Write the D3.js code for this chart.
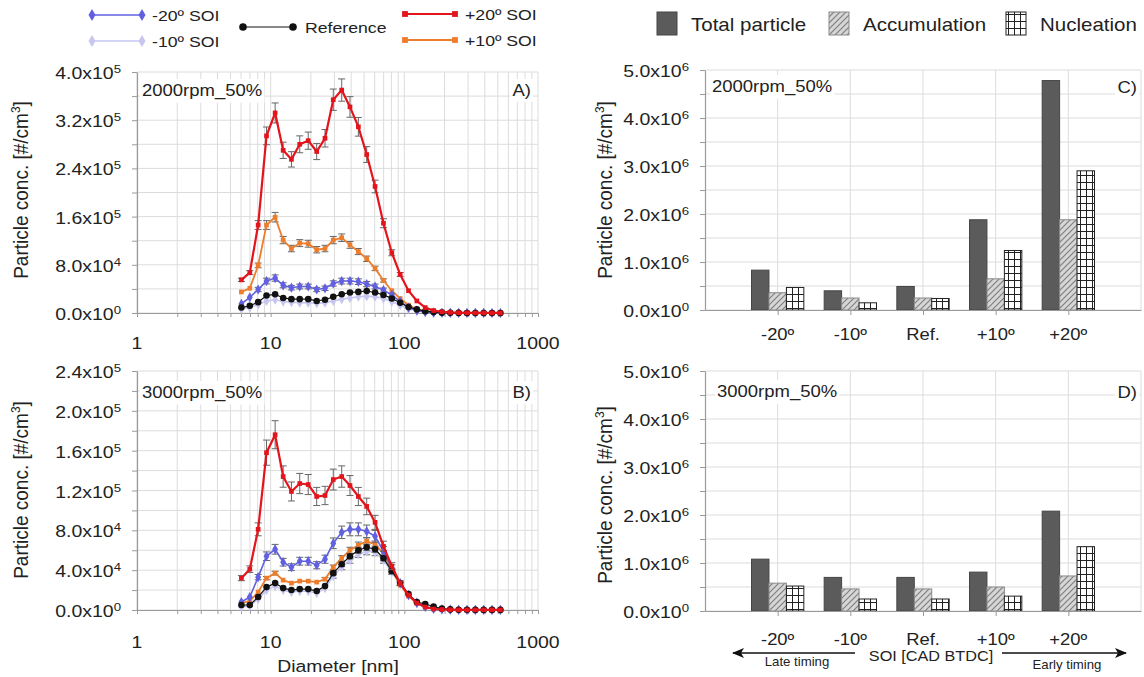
<!DOCTYPE html>
<html><head><meta charset="utf-8">
<script src="https://cdn.jsdelivr.net/npm/d3@7"></script>
<style>body{margin:0;background:#fff;} text{font-family:"Liberation Sans",Arial,sans-serif;fill:#222;}</style>
</head><body><svg id="c" width="1144" height="677"></svg>
<script>
// ---------- DATA ----------
const diameters = [6.04, 6.98, 8.06, 9.31, 10.8, 12.4, 14.3, 16.5, 19.1, 22.1, 25.5, 29.4, 34.0, 39.2, 45.3, 52.3, 60.4, 69.8, 80.6, 93.1, 107.5, 124.1, 143.3, 165.5, 191.1, 220.7, 254.8, 294.3, 339.8, 392.4, 453.2, 523.3];

// Panel A: 2000rpm_50%
const A_m20 = [15000, 26000, 39000, 53000, 58000, 46000, 42000, 44000, 44000, 39000, 41000, 49000, 53000, 53000, 52000, 48000, 44000, 38000, 30000, 19000, 9000, 4000, 1500, 600, 300, 150, 100, 80, 60, 50, 40, 30];
const A_m10 = [7000, 9000, 14000, 20000, 22000, 19000, 18000, 17000, 17000, 16000, 17000, 20000, 23000, 25000, 27000, 28000, 27000, 24000, 19000, 13000, 7000, 4000, 2000, 1000, 400, 200, 100, 80, 60, 50, 40, 30];
const A_ref = [9000, 12000, 18000, 29000, 31000, 25000, 23000, 23000, 23000, 20000, 22000, 27000, 31000, 34000, 35000, 36500, 34000, 30000, 24000, 17000, 10000, 6000, 3000, 1500, 600, 300, 150, 100, 80, 60, 50, 40];
const A_p10 = [35000, 41000, 79000, 146000, 159000, 121000, 107000, 116000, 115000, 105000, 107000, 121000, 125000, 113000, 102000, 90000, 74000, 54000, 37000, 24000, 13000, 6000, 3000, 1500, 700, 300, 200, 100, 100, 100, 100, 100];
const A_p20 = [55000, 67000, 146000, 294000, 332000, 270000, 255000, 280000, 286000, 268000, 290000, 354000, 370000, 342000, 309000, 263000, 210000, 149000, 100000, 64000, 37000, 20000, 9000, 4000, 2000, 1000, 500, 300, 200, 100, 100, 100];

// Panel B: 3000rpm_50%
const B_m20 = [8000, 13000, 33000, 54000, 61000, 48000, 43000, 49000, 49000, 45000, 51000, 67000, 78000, 81000, 81000, 79000, 74000, 59000, 42000, 27000, 15000, 7000, 3000, 1000, 500, 300, 200, 100, 100, 100, 100, 100];
const B_m10 = [3000, 4000, 11000, 20000, 24000, 20000, 18000, 19000, 19000, 17000, 22000, 34000, 43000, 50000, 56000, 59000, 58000, 50000, 38000, 26000, 15000, 8000, 4000, 2000, 800, 300, 200, 100, 100, 100, 100, 100];
const B_ref = [5000, 5000, 13000, 23000, 27000, 22000, 20000, 21000, 21000, 19000, 24000, 37000, 46000, 54000, 60000, 63000, 61000, 52000, 39000, 27000, 16000, 8000, 6000, 3500, 1500, 600, 300, 200, 100, 100, 100, 100];
const B_p10 = [7000, 9000, 18000, 32000, 37000, 30000, 27000, 29000, 29000, 28000, 31000, 43000, 52000, 60000, 65000, 69000, 66000, 57000, 40000, 25000, 14000, 7000, 3000, 1500, 600, 300, 200, 100, 100, 100, 100, 100];
const B_p20 = [32000, 41000, 81000, 158000, 176000, 134000, 119000, 127000, 126000, 114000, 115000, 131000, 134000, 125000, 114000, 104000, 88000, 64000, 44000, 27000, 15000, 7000, 3000, 1000, 500, 300, 200, 100, 100, 100, 100, 100];

// relative error bar size per series (A, B)
const errA = {"-10º SOI": 0.06, "+10º SOI": 0.05, "-20º SOI": 0.09, "Reference": 0.04, "+20º SOI": 0.05};
const errB = {"-10º SOI": 0.06, "+10º SOI": 0.05, "-20º SOI": 0.08, "Reference": 0.05, "+20º SOI": 0.08};

// Bar panels
const categories = ["-20º", "-10º", "Ref.", "+10º", "+20º"];
const C_total = [830000, 400000, 490000, 1880000, 4780000];
const C_accum = [360000, 250000, 250000, 650000, 1880000];
const C_nucl  = [470000, 150000, 240000, 1240000, 2900000];
const D_total = [1080000, 700000, 700000, 810000, 2080000];
const D_accum = [580000, 460000, 460000, 500000, 730000];
const D_nucl  = [520000, 250000, 250000, 310000, 1340000];

const xTickLabels = [1, 10, 100, 1000];

// ---------- STYLE ----------
const SX = 1.18; // horizontal stretch of the original figure's text
const seriesStyle = [
  {name: "-10º SOI", color: "#c6c6f0", sym: d3.symbolDiamond, size: 30, w: 1.6},
  {name: "+10º SOI", color: "#ee7d2b", sym: d3.symbolSquare, size: 22, w: 1.8},
  {name: "-20º SOI", color: "#6060e0", sym: d3.symbolDiamond, size: 30, w: 1.6},
  {name: "Reference", color: "#111111", sym: d3.symbolCircle, size: 34, w: 1.2},
  {name: "+20º SOI", color: "#e3141c", sym: d3.symbolSquare, size: 22, w: 2.2}
];
const dataA = {"-10º SOI": A_m10, "+10º SOI": A_p10, "-20º SOI": A_m20, "Reference": A_ref, "+20º SOI": A_p20};
const dataB = {"-10º SOI": B_m10, "+10º SOI": B_p10, "-20º SOI": B_m20, "Reference": B_ref, "+20º SOI": B_p20};

const svg = d3.select("#c");
const defs = svg.append("defs");
const hatch = defs.append("pattern").attr("id", "hatch").attr("patternUnits", "userSpaceOnUse").attr("width", 6).attr("height", 6);
hatch.append("rect").attr("width", 6).attr("height", 6).attr("fill", "#d6d6d6");
hatch.append("path").attr("d", "M-1,1 L1,-1 M0,6 L6,0 M5,7 L7,5").attr("stroke", "#808080").attr("stroke-width", 1.2);
const grid = defs.append("pattern").attr("id", "gridp").attr("patternUnits", "userSpaceOnUse").attr("width", 6).attr("height", 7);
grid.append("rect").attr("width", 6).attr("height", 7).attr("fill", "#fff");
grid.append("path").attr("d", "M0,0.5 H6 M0.5,0 V7").attr("stroke", "#222").attr("stroke-width", 1);
defs.append("marker").attr("id", "arrow").attr("viewBox", "0 0 12 10").attr("refX", 11).attr("refY", 5)
  .attr("markerWidth", 12).attr("markerHeight", 10).attr("markerUnits", "userSpaceOnUse").attr("orient", "auto")
  .append("path").attr("d", "M0,0 L12,5 L0,10 L3,5 Z").attr("fill", "#111");

// stretched text helper
function stext(g, x, y, txt, fs, anchor, sx, rot) {
  const t = g.append("text")
    .attr("transform", `translate(${x},${y}) scale(${sx || SX},1)` + (rot ? ` rotate(${rot})` : ""))
    .attr("font-size", fs).attr("text-anchor", anchor || "start");
  if (txt !== null) t.text(txt);
  return t;
}
function sciText(g, v, x, y, anchor, fs) {
  const e = v === 0 ? 0 : Math.floor(Math.log10(v) + 1e-9);
  const m = (v / Math.pow(10, e)).toFixed(1);
  const t = stext(g, x, y, null, fs, anchor);
  t.append("tspan").text(m + "x10");
  t.append("tspan").attr("dy", -6).attr("font-size", fs * 0.68).text(e);
  return t;
}
function boxedText(g, txt, x, y, fs, anchor) {
  const gg = g.append("g").attr("transform", `translate(${x},${y}) scale(${SX * 0.95},1)`);
  const bg = gg.append("rect").attr("fill", "#fff");
  const t = gg.append("text").attr("font-size", fs).attr("text-anchor", anchor || "start").text(txt);
  const b = t.node().getBBox();
  bg.attr("x", b.x - 2).attr("y", b.y - 2).attr("width", b.width + 4).attr("height", b.height + 4);
}
function styleAxis(s) {
  s.select(".domain").attr("stroke", "#9a9a9a").attr("stroke-width", 1.2);
  s.selectAll(".tick line").attr("stroke", "#9a9a9a");
}
function yTitle(x, cy) {
  const t = stext(svg, x, cy, null, 19, "middle", 1.1, -90);
  t.append("tspan").text("Particle conc. [#/cm");
  t.append("tspan").attr("dy", -7).attr("font-size", 12).text("3");
  t.append("tspan").attr("dy", 7).text("]");
}

// ---------- LINE PANELS ----------
const XL = 137, XR = 538;
function linePanel(cfg) {
  const x = d3.scaleLog().domain([1, 1000]).range([XL, XR]);
  const y = d3.scaleLinear().domain([0, cfg.yMax]).range([cfg.bottom, cfg.top]);
  const g = svg.append("g");
  const xGrid = [];
  [1, 10, 100].forEach(d => { for (let k = 1; k < 10; k++) xGrid.push(k * d); });
  xGrid.push(1000);
  const yGrid = d3.range(0, cfg.yMax + 1, cfg.minor);
  const yMajor = d3.range(0, cfg.yMax + 1, cfg.major);
  g.append("g").selectAll("line").data(xGrid).join("line")
    .attr("x1", d => x(d)).attr("x2", d => x(d)).attr("y1", cfg.top).attr("y2", cfg.bottom)
    .attr("stroke", "#dcdcdc").attr("stroke-width", 1);
  g.append("g").selectAll("line").data(yGrid).join("line")
    .attr("x1", XL).attr("x2", XR).attr("y1", d => y(d)).attr("y2", d => y(d))
    .attr("stroke", "#dcdcdc").attr("stroke-width", 1);
  g.append("g").attr("transform", `translate(0,${cfg.bottom})`)
    .call(d3.axisBottom(x).tickValues(xGrid).tickSize(4).tickSizeOuter(0).tickFormat(""))
    .call(styleAxis);
  g.append("g").attr("transform", `translate(${XL},0)`)
    .call(d3.axisLeft(y).tickValues(yGrid).tickSize(5).tickSizeOuter(0).tickFormat(""))
    .call(styleAxis);
  xTickLabels.forEach(v => stext(g, x(v), cfg.xLabY, String(v), 16.5, "middle"));
  yMajor.forEach(v => sciText(g, v, 121, y(v) + 7, "end", 16.5));
  // series
  const line = d3.line().x((d, i) => x(diameters[i])).y(d => y(d));
  seriesStyle.forEach(s => {
    const vals = cfg.data[s.name];
    const er = cfg.err[s.name];
    const sg = g.append("g");
    sg.selectAll("g.eb").data(vals).join("g").each(function(d, i) {
      const e = d * er;
      if (e * (cfg.bottom - cfg.top) / cfg.yMax < 1.5) return;
      const gg = d3.select(this), cx = x(diameters[i]);
      gg.append("line").attr("x1", cx).attr("x2", cx).attr("y1", y(d - e)).attr("y2", y(d + e)).attr("stroke", "#666").attr("stroke-width", 1);
      [d - e, d + e].forEach(v => gg.append("line").attr("x1", cx - 3.5).attr("x2", cx + 3.5).attr("y1", y(v)).attr("y2", y(v)).attr("stroke", "#666").attr("stroke-width", 1));
    });
    sg.append("path").datum(vals).attr("d", line).attr("fill", "none").attr("stroke", s.color).attr("stroke-width", s.w);
    sg.selectAll("path.m").data(vals).join("path").attr("class", "m")
      .attr("transform", (d, i) => `translate(${x(diameters[i])},${y(d)})`)
      .attr("d", d3.symbol(s.sym, s.size)).attr("fill", s.color);
  });
  boxedText(g, cfg.title, 142, cfg.titleY, 16.5);
  boxedText(g, cfg.tag, 531, cfg.titleY, 16.5, "end");
  yTitle(28, cfg.labCY);
}
linePanel({top: 72, bottom: 313, yMax: 400000, minor: 40000, major: 80000, data: dataA, err: errA, xLabY: 349, title: "2000rpm_50%", tag: "A)", titleY: 96, labCY: 190});
linePanel({top: 371, bottom: 610, yMax: 240000, minor: 20000, major: 40000, data: dataB, err: errB, xLabY: 648, title: "3000rpm_50%", tag: "B)", titleY: 398, labCY: 490});
stext(svg, 338, 672, "Diameter [nm]", 17, "middle", 1.14);

// ---------- BAR PANELS ----------
const BL = 705, BR = 1141;
function barPanel(cfg) {
  const x = d3.scaleLinear().domain([0, 6]).range([BL, BR]);
  const y = d3.scaleLinear().domain([0, 5e6]).range([cfg.bottom, cfg.top]);
  const g = svg.append("g");
  const yGrid = d3.range(0, 5e6 + 1, 5e5);
  const yMajor = d3.range(0, 5e6 + 1, 1e6);
  const xGrid = [1, 2, 3, 4, 5, 6];
  g.append("g").selectAll("line").data(yGrid).join("line")
    .attr("x1", BL).attr("x2", BR).attr("y1", d => y(d)).attr("y2", d => y(d)).attr("stroke", "#dcdcdc");
  g.append("g").selectAll("line").data(xGrid).join("line")
    .attr("x1", d => x(d)).attr("x2", d => x(d)).attr("y1", cfg.top).attr("y2", cfg.bottom).attr("stroke", "#dcdcdc");
  const bw = (x(1) - x(0)) * 0.24;
  const sets = [
    {vals: cfg.total, fill: "#5b5b5b", stroke: "#454545", off: -1},
    {vals: cfg.accum, fill: "url(#hatch)", stroke: "#8a8a8a", off: 0},
    {vals: cfg.nucl, fill: "url(#gridp)", stroke: "#222", off: 1}
  ];
  sets.forEach(s => {
    g.append("g").selectAll("rect").data(s.vals).join("rect")
      .attr("x", (d, i) => x(i + 1) + (s.off - 0.5) * bw).attr("width", bw)
      .attr("y", d => y(d)).attr("height", d => y(0) - y(d))
      .attr("fill", s.fill).attr("stroke", s.stroke).attr("stroke-width", 1);
  });
  g.append("g").attr("transform", `translate(0,${cfg.bottom})`)
    .call(d3.axisBottom(x).tickValues([1, 2, 3, 4, 5]).tickSize(5).tickSizeOuter(0).tickFormat(""))
    .call(styleAxis);
  g.append("g").attr("transform", `translate(${BL},0)`)
    .call(d3.axisLeft(y).tickValues(yGrid).tickSize(5).tickSizeOuter(0).tickFormat(""))
    .call(styleAxis);
  yMajor.forEach(v => sciText(g, v, 689, y(v) + 7, "end", 16.5));
  categories.forEach((c, i) => stext(g, x(i + 1), cfg.catY, c, 16, "middle", 1.15));
  boxedText(g, cfg.title, cfg.titleX, cfg.titleY, 16.5);
  boxedText(g, cfg.tag, 1137, cfg.titleY + 1, 16.5, "end");
  yTitle(612, cfg.labCY);
}
barPanel({top: 70, bottom: 310, total: C_total, accum: C_accum, nucl: C_nucl, catY: 340, title: "2000rpm_50%", titleX: 712, titleY: 92, tag: "C)", labCY: 190});
barPanel({top: 371, bottom: 611, total: D_total, accum: D_accum, nucl: D_nucl, catY: 645, title: "3000rpm_50%", titleX: 717, titleY: 397, tag: "D)", labCY: 495});

// bottom annotation
stext(svg, 931, 661, "SOI [CAD BTDC]", 14.5, "middle", 1.12);
svg.append("line").attr("x1", 855).attr("x2", 733).attr("y1", 653).attr("y2", 653).attr("stroke", "#111").attr("stroke-width", 1.3).attr("marker-end", "url(#arrow)");
svg.append("line").attr("x1", 1002).attr("x2", 1126).attr("y1", 653).attr("y2", 653).attr("stroke", "#111").attr("stroke-width", 1.3).attr("marker-end", "url(#arrow)");
stext(svg, 797, 666, "Late timing", 12, "middle", 1.1);
stext(svg, 1067, 669, "Early timing", 12, "middle", 1.1);

// ---------- LEGENDS ----------
const legLeft = [
  {name: "-20º SOI", x: 92, y: 15},
  {name: "-10º SOI", x: 92, y: 41},
  {name: "Reference", x: 243, y: 27},
  {name: "+20º SOI", x: 405, y: 14},
  {name: "+10º SOI", x: 405, y: 40}
];
legLeft.forEach(l => {
  const s = seriesStyle.find(d => d.name === l.name);
  const g = svg.append("g");
  g.append("line").attr("x1", l.x).attr("x2", l.x + 50).attr("y1", l.y).attr("y2", l.y).attr("stroke", s.color).attr("stroke-width", s.w);
  [l.x, l.x + 50].forEach(px => g.append("path").attr("transform", `translate(${px},${l.y})`).attr("d", d3.symbol(s.sym, s.size + 12)).attr("fill", s.color));
  stext(g, l.x + (l.name === "Reference" ? 62 : 60), l.y + 6, l.name, 14.5, "start", 1.22);
});
const legRight = [
  {name: "Total particle", x: 657, fill: "#5b5b5b", stroke: "#454545"},
  {name: "Accumulation", x: 829, fill: "url(#hatch)", stroke: "#8a8a8a"},
  {name: "Nucleation", x: 1006, fill: "url(#gridp)", stroke: "#222"}
];
legRight.forEach(l => {
  svg.append("rect").attr("x", l.x).attr("y", 12).attr("width", 20).attr("height", 23).attr("fill", l.fill).attr("stroke", l.stroke);
  stext(svg, l.x + 34, 31, l.name, 18, "start", 1.14);
});
</script></body></html>
